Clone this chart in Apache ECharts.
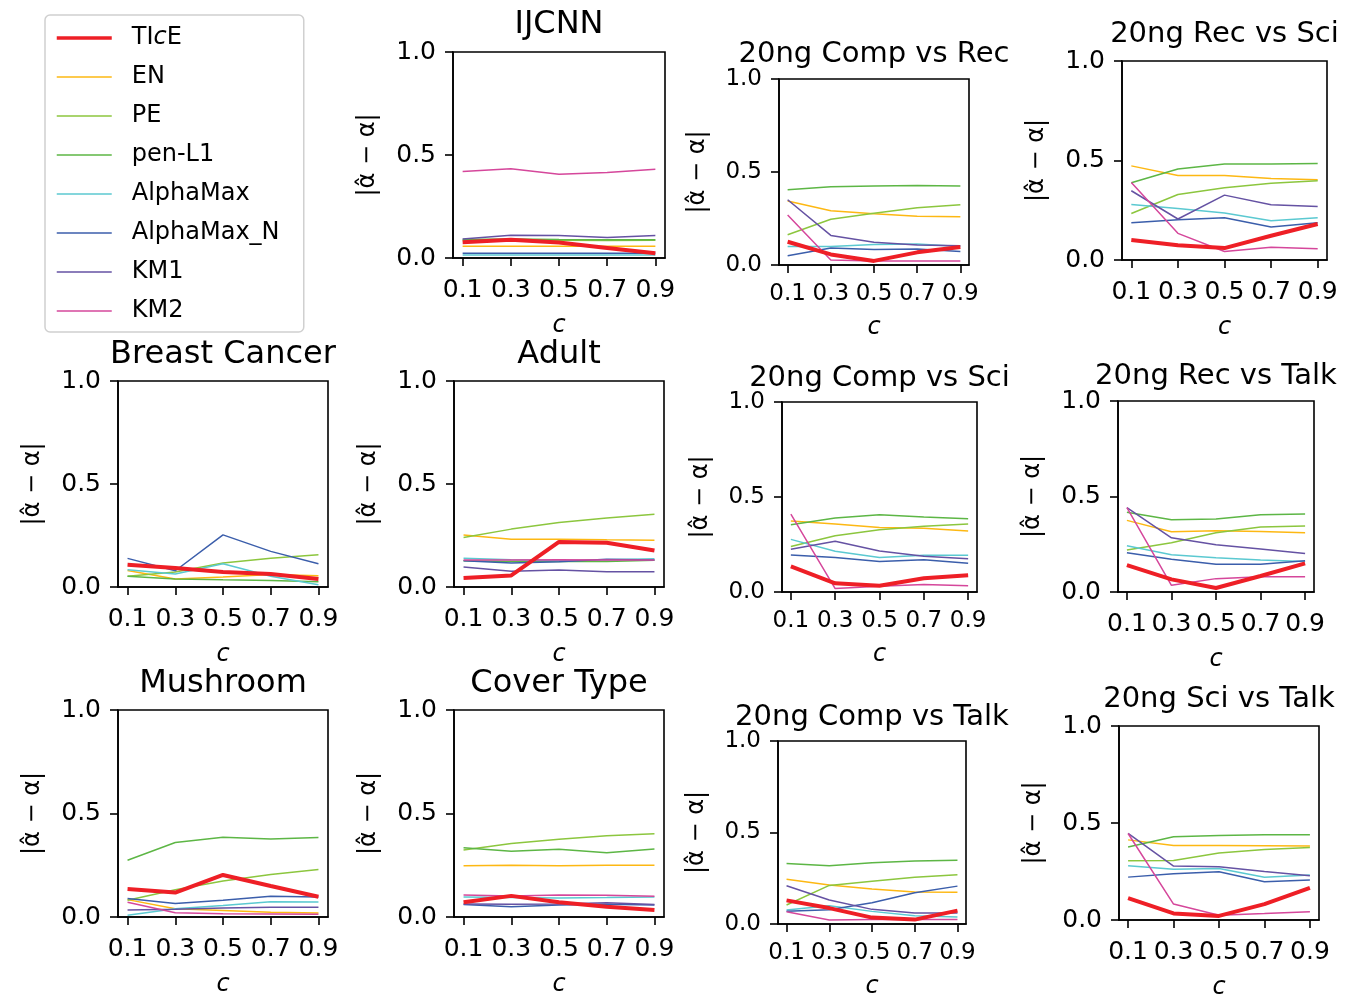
<!DOCTYPE html>
<html><head><meta charset="utf-8">
<script src="https://cdn.jsdelivr.net/npm/echarts@6/dist/echarts.min.js"></script>
<style>html,body{margin:0;padding:0;background:#fff}#c{width:1352px;height:994px}</style>
</head><body><div id="c"></div>
<script>
const cValues = [0.1, 0.3, 0.5, 0.7, 0.9];
const xTickValues = [0.1, 0.3, 0.5, 0.7, 0.9];
const yTickValues = [0, 0.5, 1.0];
const methods = ['TIcE', 'EN', 'PE', 'pen-L1', 'AlphaMax', 'AlphaMax_N', 'KM1', 'KM2'];

// each panel: rows in methods order (TIcE, EN, PE, pen-L1, AlphaMax, AlphaMax_N, KM1, KM2)
const ijcnn = [
  [0.076, 0.089, 0.075, 0.049, 0.023],
  [0.057, 0.057, 0.057, 0.057, 0.057],
  [0.085, 0.087, 0.086, 0.085, 0.086],
  [0.090, 0.092, 0.090, 0.089, 0.089],
  [0.015, 0.015, 0.015, 0.015, 0.015],
  [0.023, 0.023, 0.023, 0.023, 0.023],
  [0.092, 0.110, 0.109, 0.100, 0.109],
  [0.420, 0.433, 0.407, 0.415, 0.431]
];
const compRec = [
  [0.125, 0.057, 0.022, 0.068, 0.097],
  [0.344, 0.292, 0.276, 0.262, 0.260],
  [0.163, 0.246, 0.278, 0.308, 0.324],
  [0.405, 0.421, 0.425, 0.428, 0.425],
  [0.100, 0.100, 0.110, 0.113, 0.100],
  [0.050, 0.091, 0.084, 0.086, 0.072],
  [0.351, 0.159, 0.122, 0.108, 0.104],
  [0.269, 0.027, 0.022, 0.022, 0.022]
];
const recSci = [
  [0.100, 0.074, 0.060, 0.122, 0.181],
  [0.473, 0.425, 0.425, 0.410, 0.403],
  [0.234, 0.329, 0.363, 0.386, 0.398],
  [0.388, 0.457, 0.482, 0.482, 0.485],
  [0.279, 0.259, 0.236, 0.197, 0.212],
  [0.187, 0.202, 0.212, 0.166, 0.187],
  [0.348, 0.206, 0.326, 0.278, 0.269],
  [0.390, 0.134, 0.043, 0.064, 0.057]
];
const breastCancer = [
  [0.108, 0.092, 0.073, 0.063, 0.039],
  [0.080, 0.039, 0.048, 0.061, 0.055],
  [0.052, 0.073, 0.116, 0.139, 0.156],
  [0.052, 0.039, 0.035, 0.032, 0.026],
  [0.084, 0.063, 0.113, 0.052, 0.011],
  [0.139, 0.079, 0.253, 0.173, 0.113],
  [null, null, null, null, null],
  [null, null, null, null, null]
];
const adult = [
  [0.044, 0.056, 0.219, 0.215, 0.177],
  [0.253, 0.232, 0.232, 0.229, 0.227],
  [0.240, 0.281, 0.313, 0.335, 0.353],
  [0.128, 0.124, 0.124, 0.124, 0.130],
  [0.140, 0.132, 0.127, 0.132, 0.137],
  [0.127, 0.116, 0.123, 0.135, 0.131],
  [0.097, 0.077, 0.082, 0.074, 0.074],
  [0.131, 0.131, 0.132, 0.131, 0.131]
];
const compSci = [
  [0.135, 0.046, 0.033, 0.072, 0.088],
  [0.374, 0.358, 0.340, 0.335, 0.321],
  [0.239, 0.296, 0.328, 0.346, 0.358],
  [0.354, 0.389, 0.407, 0.395, 0.386],
  [0.277, 0.214, 0.182, 0.193, 0.193],
  [0.195, 0.182, 0.161, 0.170, 0.151],
  [0.225, 0.267, 0.216, 0.188, 0.175],
  [0.410, 0.018, 0.030, 0.039, 0.033]
];
const recTalk = [
  [0.141, 0.066, 0.021, 0.084, 0.150],
  [0.375, 0.315, 0.321, 0.317, 0.310],
  [0.220, 0.258, 0.310, 0.340, 0.345],
  [0.418, 0.378, 0.382, 0.404, 0.409],
  [0.242, 0.195, 0.179, 0.167, 0.160],
  [0.206, 0.172, 0.145, 0.145, 0.164],
  [0.442, 0.284, 0.247, 0.225, 0.202],
  [0.442, 0.035, 0.070, 0.080, 0.080]
];
const mushroom = [
  [0.135, 0.118, 0.203, 0.150, 0.098],
  [0.084, 0.040, 0.032, 0.023, 0.019],
  [0.081, 0.132, 0.174, 0.205, 0.229],
  [0.274, 0.360, 0.385, 0.377, 0.384],
  [0.008, 0.040, 0.055, 0.074, 0.073],
  [0.089, 0.065, 0.081, 0.100, 0.097],
  [0.034, 0.037, 0.044, 0.047, 0.047],
  [0.071, 0.021, 0.016, 0.015, 0.013]
];
const coverType = [
  [0.071, 0.102, 0.071, 0.050, 0.034],
  [0.247, 0.250, 0.247, 0.250, 0.250],
  [0.324, 0.355, 0.376, 0.392, 0.402],
  [0.335, 0.318, 0.327, 0.310, 0.329],
  [0.097, 0.094, 0.092, 0.094, 0.097],
  [0.060, 0.050, 0.058, 0.061, 0.058],
  [0.063, 0.061, 0.063, 0.069, 0.060],
  [0.106, 0.102, 0.106, 0.105, 0.100]
];
const compTalk = [
  [0.129, 0.087, 0.035, 0.024, 0.073],
  [0.245, 0.213, 0.191, 0.175, 0.173],
  [0.104, 0.211, 0.233, 0.256, 0.269],
  [0.331, 0.318, 0.335, 0.344, 0.349],
  [0.076, 0.100, 0.069, 0.045, 0.038],
  [0.069, 0.078, 0.116, 0.171, 0.207],
  [0.209, 0.131, 0.080, 0.060, 0.060],
  [0.067, 0.022, 0.024, 0.024, 0.024]
];
const sciTalk = [
  [0.113, 0.034, 0.021, 0.082, 0.166],
  [0.413, 0.384, 0.384, 0.383, 0.381],
  [0.305, 0.307, 0.345, 0.364, 0.374],
  [0.376, 0.429, 0.436, 0.439, 0.439],
  [0.280, 0.261, 0.266, 0.220, 0.232],
  [0.221, 0.238, 0.249, 0.197, 0.206],
  [0.446, 0.278, 0.274, 0.250, 0.228],
  [0.446, 0.082, 0.024, 0.033, 0.043]
];

const colors = ['#ee1f26', '#fdb813', '#8cc63e', '#5db645', '#5bc9d1', '#3b5eab', '#6552a3', '#d5479b'];
const widths = [4, 1.5, 1.5, 1.5, 1.5, 1.5, 1.5, 1.5];

// col: 1..4 (column of the figure grid)
const panels = [
  {title: 'IJCNN', data: ijcnn, l: 453, t: 52, w: 212, h: 206, d: 28, col: 2},
  {title: '20ng Comp vs Rec', data: compRec, l: 779, t: 79, w: 190, h: 186, d: 25, col: 3},
  {title: '20ng Rec vs Sci', data: recSci, l: 1122, t: 61, w: 205, h: 199, d: 27, col: 4},
  {title: 'Breast Cancer', data: breastCancer, l: 118, t: 381, w: 210, h: 206, d: 27, col: 1},
  {title: 'Adult', data: adult, l: 454, t: 381, w: 210, h: 206, d: 27, col: 2},
  {title: '20ng Comp vs Sci', data: compSci, l: 782, t: 402, w: 195, h: 190, d: 24, col: 3},
  {title: '20ng Rec vs Talk', data: recTalk, l: 1118, t: 401, w: 196, h: 191, d: 25, col: 4},
  {title: 'Mushroom', data: mushroom, l: 118, t: 710, w: 210, h: 207, d: 27, col: 1},
  {title: 'Cover Type', data: coverType, l: 454, t: 710, w: 210, h: 207, d: 27, col: 2},
  {title: '20ng Comp vs Talk', data: compTalk, l: 778, t: 741, w: 188, h: 183, d: 24, col: 3},
  {title: '20ng Sci vs Talk', data: sciTalk, l: 1119, t: 726, w: 200, h: 194, d: 27, col: 4}
];

const FONT = 'DejaVu Sans';
const grid = [], xAxis = [], yAxis = [], title = [], series = [];
panels.forEach((p, i) => {
  const big = p.col <= 2;
  const titleSize = big ? 32 : 29;
  const tickSize = p.col === 3 ? 23 : 25;
  const xMargin = p.col === 3 ? 18 : 20;
  const xNameGap = p.col === 3 ? 51 : 56;
  const yNameGap = p.col === 3 ? 69 : 73;
  grid.push({left: p.l, top: p.t, width: p.w, height: p.h, show: true, containLabel: false, outerBoundsMode: 'none',
    borderColor: '#000', borderWidth: 1.6, backgroundColor: '#fff'});
  title.push({text: p.title, left: p.l + p.w / 2, top: p.t - p.d - Math.round(titleSize / 2) + 1, textAlign: 'center', padding: 0,
    textStyle: {fontFamily: FONT, fontSize: titleSize, fontWeight: 'normal', color: '#000'}});
  xAxis.push({type: 'value', gridIndex: i, min: 0.06, max: 0.94,
    axisLine: {show: true, lineStyle: {color: '#000', width: 1.6}},
    axisTick: {show: true, length: 8, customValues: xTickValues, lineStyle: {color: '#000', width: 1.6}},
    axisLabel: {customValues: xTickValues, formatter: v => v.toFixed(1), margin: xMargin, fontFamily: FONT, fontSize: tickSize, color: '#000'},
    splitLine: {show: false},
    name: 'c', nameLocation: 'middle', nameGap: xNameGap,
    nameTextStyle: {fontFamily: FONT, fontSize: 24, fontStyle: 'italic', color: '#000'}});
  yAxis.push({type: 'value', gridIndex: i, min: 0, max: 1, interval: 0.5,
    axisLine: {show: true, lineStyle: {color: '#000', width: 1.6}},
    axisTick: {show: true, length: 8, lineStyle: {color: '#000', width: 1.6}},
    axisLabel: {formatter: v => v.toFixed(1), margin: 17, fontFamily: FONT, fontSize: tickSize, color: '#000'},
    splitLine: {show: false},
    name: '|α\u0302 \u2212 α|', nameLocation: 'middle', nameGap: yNameGap, nameRotate: 90,
    nameTextStyle: {fontFamily: FONT, fontSize: 24, color: '#000'}});
  const order = [1, 2, 3, 4, 5, 6, 7, 0];
  order.forEach(m => {
    series.push({type: 'line', name: methods[m], xAxisIndex: i, yAxisIndex: i,
      data: cValues.map((c, j) => [c, p.data[m][j]]),
      symbol: 'none', showSymbol: false, connectNulls: false, silent: true, z: m === 0 ? 5 : 2,
      lineStyle: {color: colors[m], width: widths[m]}, itemStyle: {color: colors[m]}});
  });
});

const chart = echarts.init(document.getElementById('c'), null, {renderer: 'canvas'});
chart.setOption({
  animation: false,
  backgroundColor: '#fff',
  title, grid, xAxis, yAxis, series,
  legend: {
    data: methods.map((m, k) => ({name: m, lineStyle: {width: k === 0 ? 3.5 : 1.5, color: colors[k]}})),
    orient: 'vertical', left: 45, top: 15,
    padding: [8, 12, 6, 10], itemGap: 9, itemWidth: 55, itemHeight: 14,
    backgroundColor: '#fff', borderColor: '#d0d0d0', borderWidth: 1.5, borderRadius: 5,
    selectedMode: false,
    itemStyle: {opacity: 0},
    formatter: n => n === 'TIcE' ? 'TI{i|c}E' : n,
    textStyle: {fontFamily: FONT, fontSize: 24, color: '#000', lineHeight: 30, width: 160, padding: [0, 0, 0, 15],
      rich: {i: {fontFamily: FONT, fontSize: 24, fontStyle: 'italic', color: '#000'}}}
  }
});
</script></body></html>
